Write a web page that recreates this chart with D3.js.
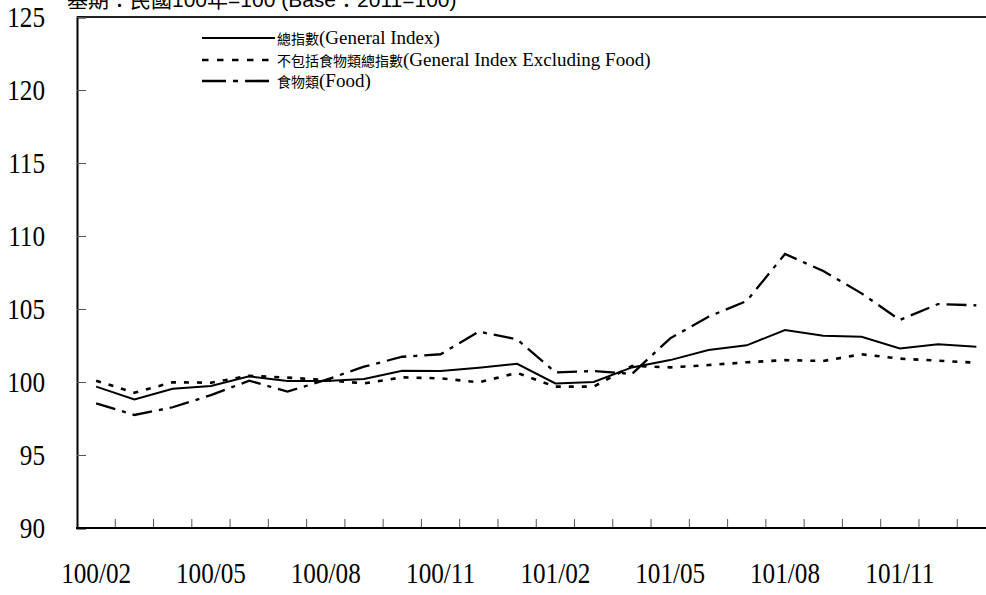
<!DOCTYPE html>
<html>
<head>
<meta charset="utf-8">
<script src="https://cdn.jsdelivr.net/npm/d3@7"></script>
<style>
html,body{margin:0;padding:0;background:#fff;overflow:hidden;}
svg{display:block;}
</style>
</head>
<body>
<svg id="chart" width="986" height="595"></svg>
<script>
// ---- data ----
const months = ["100/02","100/03","100/04","100/05","100/06","100/07","100/08","100/09","100/10","100/11","100/12","101/01",
                "101/02","101/03","101/04","101/05","101/06","101/07","101/08","101/09","101/10","101/11","101/12","102/01"];
const xTickLabels = ["100/02","100/05","100/08","100/11","101/02","101/05","101/08","101/11"];
const yTicks = [90,95,100,105,110,115,120,125];
const generalIndex = [99.68,98.81,99.54,99.73,100.39,100.07,100.07,100.20,100.77,100.75,100.98,101.25,
                      99.90,100.00,101.00,101.50,102.19,102.51,103.56,103.17,103.10,102.30,102.58,102.42];
const exFoodIndex  = [100.09,99.27,99.98,99.95,100.43,100.30,100.14,99.90,100.32,100.25,99.98,100.62,
                      99.68,99.68,101.10,101.00,101.16,101.35,101.50,101.44,101.90,101.60,101.46,101.32];
const foodIndex    = [98.54,97.74,98.27,99.10,100.09,99.34,100.14,101.05,101.73,101.90,103.45,102.92,
                      100.66,100.75,100.55,102.99,104.47,105.55,108.77,107.60,106.07,104.25,105.34,105.25];
const seriesNames = [
  {cjk:"總指數", lat:"(General Index)"},
  {cjk:"不包括食物類總指數", lat:"(General Index Excluding Food)"},
  {cjk:"食物類", lat:"(Food)"}
];
const headerText = "基期：民國100年=100 (Base：2011=100)";

// ---- layout ----
const svg = d3.select("#chart");
const L = 77, R = 995.5, T = 17, B = 528;
const x = d3.scaleBand().domain(months).range([L, R]).padding(0);
const y = d3.scaleLinear().domain([90,125]).range([B, T]);
const cx = m => x(m) + x.bandwidth()/2;

const serif = "'Liberation Serif','Times New Roman',serif";
const cjkFont = "'Noto Sans CJK TC','Noto Sans CJK SC',sans-serif";

// header
svg.append("text").attr("x",67).attr("y",7)
  .style("font-family","'Liberation Sans',Arial,'Noto Sans CJK TC',sans-serif")
  .style("font-size","21px").attr("fill","#000").text(headerText);

// top border
svg.append("line").attr("x1",L).attr("x2",986).attr("y1",T).attr("y2",T)
  .attr("stroke","#222").attr("stroke-width",2);

// y axis
const yAxis = svg.append("g").attr("transform",`translate(${L},0)`)
  .call(d3.axisLeft(y).tickValues(yTicks).tickSize(-9).tickPadding(32).tickFormat(d3.format("d")));
yAxis.select(".domain").attr("stroke","#000").attr("stroke-width",2);
yAxis.selectAll(".tick line").attr("stroke","#555").attr("stroke-width",1);
yAxis.selectAll(".tick text").style("font-family",serif).style("font-size","30px").attr("fill","#000");

// x axis labels
const xAxis = svg.append("g").attr("transform",`translate(0,${B})`)
  .call(d3.axisBottom(x).tickValues(xTickLabels).tickSize(0).tickPadding(34));
xAxis.select(".domain").remove();
xAxis.selectAll(".tick text").style("font-family",serif).style("font-size","30px").attr("fill","#000");

// condense numeric labels
svg.selectAll(".tick text").each(function(){
  const w = this.getComputedTextLength();
  d3.select(this).attr("textLength", w*0.84).attr("lengthAdjust","spacingAndGlyphs");
});

// x tick marks at month boundaries
svg.append("g").selectAll("line").data(months.slice(1)).join("line")
  .attr("x1",d=>x(d)).attr("x2",d=>x(d)).attr("y1",B).attr("y2",B-9)
  .attr("stroke","#555").attr("stroke-width",1);
// bottom axis line
svg.append("line").attr("x1",L-1).attr("x2",986).attr("y1",B).attr("y2",B)
  .attr("stroke","#000").attr("stroke-width",2);

// lines
const series = [
  {vals:generalIndex, dash:null, w:2},
  {vals:exFoodIndex, dash:"5,8", w:2.6},
  {vals:foodIndex, dash:"20,7,4,7", w:2.3}
];
const line = d3.line().x((d,i)=>cx(months[i])).y(d=>y(d));
series.forEach(s=>{
  svg.append("path").datum(s.vals).attr("d",line)
    .attr("fill","none").attr("stroke","#000").attr("stroke-width",s.w)
    .attr("stroke-dasharray",s.dash);
});

// legend
const legY = [38, 60, 81];
const legDash = [null,"6.5,8.5","24,7,5,7"];
seriesNames.forEach((n,i)=>{
  svg.append("line").attr("x1",202).attr("x2",275).attr("y1",legY[i]).attr("y2",legY[i])
    .attr("stroke","#000").attr("stroke-width",i===0?2:2.6).attr("stroke-dasharray",legDash[i]);
  const t = svg.append("text").attr("x",277).attr("y",legY[i]+6).attr("fill","#000");
  t.append("tspan").style("font-family",cjkFont).style("font-size","14px").text(n.cjk);
  t.append("tspan").style("font-family",serif).style("font-size","19px").text(n.lat);
});
</script>
</body>
</html>
